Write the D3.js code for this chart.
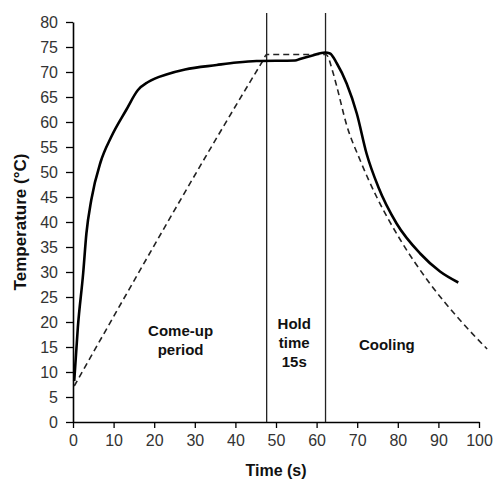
<!DOCTYPE html>
<html>
<head>
<meta charset="utf-8">
<script src="https://cdn.jsdelivr.net/npm/d3@7"></script>
<style>
  body { margin: 0; background: #fff; }
  .tick text { font-family: "Liberation Sans", Arial, sans-serif; font-size: 16px; fill: #333; }
  .lbl { font-family: "Liberation Sans", Arial, sans-serif; font-weight: bold; fill: #111; }
</style>
</head>
<body>
<div id="chart"></div>
<script>
// measured temperature (solid)
var measuredTime = [0.3, 1.2, 2.5, 3.3, 4.5, 6.8, 9.4, 13.1, 16, 18.5, 23.4, 27.6, 35.4, 40.3, 45.2, 54.7, 55.9, 59, 62.1, 63.3, 65, 67.4, 69.9, 72.3, 75.2, 79.7, 85.5, 90.4, 94.9];
var measuredTemp = [8.2, 19, 29.7, 37.7, 44.4, 52, 57, 62.4, 66.4, 68, 69.6, 70.5, 71.4, 71.9, 72.2, 72.3, 72.6, 73.3, 73.9, 73.7, 71.7, 67.7, 61.7, 53.7, 47, 39.7, 33.7, 30.1, 27.9];

// target profile (dashed)
var profileTime = [0.3, 46.8, 47.7, 62.3, 64, 65, 67.4, 70.7, 74.8, 80.5, 87.9, 95.3, 102];
var profileTemp = [7.2, 72.3, 73.5, 73.5, 70, 67, 59.4, 52.4, 45, 36.6, 27.7, 20.4, 14.6];

// period boundaries
var phaseLines = [47.7, 62.2];

var xTicks = [0, 10, 20, 30, 40, 50, 60, 70, 80, 90, 100];
var yTicks = [0, 5, 10, 15, 20, 25, 30, 35, 40, 45, 50, 55, 60, 65, 70, 75, 80];

var width = 494, height = 481;
var margin = { top: 22, right: 15, bottom: 59, left: 73 };
var innerW = 406, innerH = 400;

var svg = d3.select("#chart").append("svg")
  .attr("width", width)
  .attr("height", height);

var g = svg.append("g")
  .attr("transform", "translate(" + margin.left + "," + margin.top + ")");

var x = d3.scaleLinear().domain([0, 100]).range([0, innerW]);
var y = d3.scaleLinear().domain([0, 80]).range([innerH, 0]);

g.append("g")
  .attr("transform", "translate(0," + innerH + ")")
  .call(d3.axisBottom(x).tickValues(xTicks).tickSize(6).tickPadding(7).tickSizeOuter(0))
  .call(function(a){ a.select(".domain").attr("stroke", "#000").attr("stroke-width", 1.6); })
  .call(function(a){ a.selectAll(".tick line").attr("stroke", "#000").attr("stroke-width", 1.3); });

g.append("g")
  .call(d3.axisLeft(y).tickValues(yTicks).tickSize(7).tickPadding(8).tickSizeOuter(0))
  .call(function(a){ a.select(".domain").attr("stroke", "#000").attr("stroke-width", 1.6); })
  .call(function(a){ a.selectAll(".tick line").attr("stroke", "#000").attr("stroke-width", 1.3); });

// vertical phase lines
g.selectAll(".phase")
  .data(phaseLines)
  .enter().append("line")
  .attr("class", "phase")
  .attr("x1", function(d){ return x(d); })
  .attr("x2", function(d){ return x(d); })
  .attr("y1", -9)
  .attr("y2", innerH)
  .attr("stroke", "#222")
  .attr("stroke-width", 1.3);

var line = d3.line()
  .x(function(d){ return x(d[0]); })
  .y(function(d){ return y(d[1]); })
  .curve(d3.curveMonotoneX);

g.append("path")
  .datum(d3.zip(profileTime, profileTemp))
  .attr("d", line)
  .attr("fill", "none")
  .attr("stroke", "#222")
  .attr("stroke-width", 1.6)
  .attr("stroke-dasharray", "6,4");

g.append("path")
  .datum(d3.zip(measuredTime, measuredTemp))
  .attr("d", line)
  .attr("fill", "none")
  .attr("stroke", "#000")
  .attr("stroke-width", 2.6)
  .attr("stroke-linejoin", "round");

// region labels
var regionLabels = [
  { t: 26.5, T: 17.2, lines: ["Come-up", "period"] },
  { t: 54.5, T: 18.6, lines: ["Hold", "time", "15s"] },
  { t: 77.3, T: 14.4, lines: ["Cooling"] }
];

regionLabels.forEach(function(r){
  var txt = g.append("text")
    .attr("class", "lbl")
    .attr("text-anchor", "middle")
    .style("font-size", "15px")
    .attr("x", x(r.t))
    .attr("y", y(r.T));
  r.lines.forEach(function(s, i){
    txt.append("tspan")
      .attr("x", x(r.t))
      .attr("dy", i == 0 ? 0 : 19)
      .text(s);
  });
});

// axis titles
svg.append("text")
  .attr("class", "lbl")
  .attr("text-anchor", "middle")
  .style("font-size", "16px")
  .attr("x", margin.left + innerW / 2)
  .attr("y", 476)
  .text("Time (s)");

svg.append("text")
  .attr("class", "lbl")
  .attr("text-anchor", "middle")
  .style("font-size", "17px")
  .attr("transform", "translate(26," + (margin.top + innerH / 2) + ") rotate(-90)")
  .text("Temperature (°C)");
</script>
</body>
</html>
